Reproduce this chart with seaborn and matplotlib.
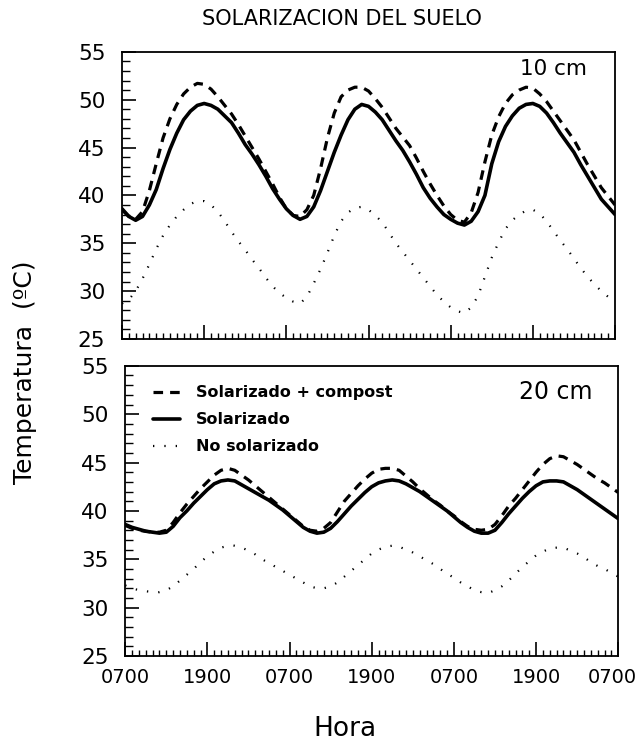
import numpy as np
import pandas as pd
import matplotlib
matplotlib.use("Agg")
import matplotlib.pyplot as plt
from matplotlib.ticker import MultipleLocator
from matplotlib.transforms import ScaledTranslation
import seaborn as sns

hours = list(range(0, 73))

top_compost = [38.5, 37.8, 37.5, 38.3, 40.5, 43.3, 46.0, 48.0, 49.5, 50.6, 51.3, 51.7,
               51.6, 51.1, 50.3, 49.4, 48.5, 47.4, 46.2, 45.0, 43.8, 42.5, 41.2, 39.8,
               38.6, 37.9, 37.8, 38.5, 40.0, 42.8, 46.0, 48.6, 50.3, 51.0, 51.3, 51.3,
               50.9, 50.1, 49.2, 48.1, 47.0, 46.1, 45.2, 43.9, 42.5, 41.2, 40.0, 38.9,
               38.0, 37.4, 37.2, 38.2, 40.3, 43.5, 46.3, 48.2, 49.6, 50.5, 51.0, 51.3,
               51.2, 50.6, 49.8, 48.8, 47.8, 46.8, 45.8, 44.5, 43.2, 42.0, 40.8, 39.9,
               39.0]
top_solar = [38.6, 37.8, 37.4, 37.8, 39.0, 40.6, 42.8, 44.8, 46.5, 47.9, 48.8, 49.4,
             49.6, 49.4, 49.0, 48.3, 47.6, 46.5, 45.3, 44.3, 43.2, 42.0, 40.7, 39.6,
             38.6, 37.9, 37.5, 37.8, 38.8, 40.5, 42.5, 44.5, 46.3, 47.9, 49.0, 49.5,
             49.3, 48.7, 47.9, 46.8, 45.7, 44.7, 43.5, 42.2, 40.8, 39.7, 38.8, 38.0,
             37.5, 37.1, 36.9, 37.3, 38.3, 40.0, 43.3, 45.6, 47.2, 48.3, 49.1, 49.5,
             49.6, 49.3, 48.6, 47.6, 46.5, 45.5, 44.5, 43.2, 42.0, 40.8, 39.6, 38.8,
             38.0]
top_none = [28.7, 29.1, 30.0, 31.3, 32.8, 34.4, 35.8, 36.9, 37.8, 38.5, 39.1, 39.4,
            39.4, 39.0, 38.3, 37.3, 36.2, 35.2, 34.3, 33.3, 32.4, 31.4, 30.5, 29.8,
            29.3, 28.9, 28.7, 29.4, 30.8, 32.3, 34.0, 35.8, 37.3, 38.2, 38.7, 38.8,
            38.5, 37.9, 37.2, 36.1, 35.0, 34.1, 33.2, 32.3, 31.4, 30.5, 29.6, 28.9,
            28.3, 27.9, 27.7, 28.3, 29.5, 31.5, 33.5, 35.1, 36.5, 37.4, 38.0, 38.4,
            38.5, 38.1, 37.3, 36.3, 35.3, 34.4, 33.4, 32.4, 31.5, 30.7, 30.0, 29.4,
            28.8]

bot_compost = [38.5, 38.2, 38.0, 37.9, 37.8, 37.8, 38.0, 38.8, 39.8, 40.7, 41.5, 42.3,
               43.0, 43.7, 44.2, 44.4, 44.2, 43.7, 43.2, 42.6, 42.0, 41.4, 40.8, 40.2,
               39.6, 39.0, 38.4, 38.0, 37.9, 38.2, 38.8, 39.9, 41.0, 41.8, 42.6, 43.3,
               43.9, 44.3, 44.4, 44.4, 44.2, 43.6, 43.0, 42.3, 41.7, 41.1, 40.6, 40.0,
               39.5, 38.9, 38.4, 38.1, 38.0, 38.1, 38.6, 39.5, 40.5, 41.3, 42.2, 43.1,
               44.0, 44.8, 45.4, 45.7, 45.6, 45.2, 44.8, 44.3, 43.8, 43.3, 42.9, 42.4,
               41.9]
bot_solar = [38.6, 38.3, 38.1, 37.9, 37.8, 37.7, 37.8, 38.4, 39.3, 40.0, 40.8, 41.5,
             42.2, 42.8, 43.1, 43.2, 43.1, 42.7, 42.3, 41.9, 41.5, 41.1, 40.6, 40.1,
             39.5, 38.9, 38.3, 37.9, 37.7, 37.8, 38.2, 38.9, 39.7, 40.5, 41.2, 41.9,
             42.5, 42.9, 43.1, 43.2, 43.1, 42.8, 42.4, 42.0, 41.5, 41.0, 40.5, 40.0,
             39.4, 38.8, 38.3, 37.9, 37.7, 37.7, 38.0, 38.8, 39.7, 40.5, 41.3, 42.0,
             42.6, 43.0, 43.1, 43.1, 43.0, 42.6, 42.2, 41.7, 41.2, 40.7, 40.2, 39.7,
             39.2]
bot_none = [32.3, 32.0, 31.8, 31.7, 31.6, 31.6, 31.8, 32.2, 32.8, 33.4, 34.0, 34.7,
            35.3, 35.8, 36.2, 36.4, 36.4, 36.2, 35.9, 35.5, 35.0, 34.6, 34.2, 33.8,
            33.4, 33.0, 32.6, 32.2, 32.0, 32.0, 32.2, 32.6, 33.2, 33.8, 34.4, 35.0,
            35.6, 36.0, 36.3, 36.4, 36.3, 36.0, 35.7, 35.3, 34.9, 34.5, 34.0, 33.5,
            33.1, 32.6, 32.2, 31.8, 31.6, 31.5, 31.8, 32.2, 32.8, 33.5, 34.2, 34.8,
            35.4, 35.8, 36.1, 36.2, 36.2, 35.9, 35.6, 35.2, 34.7, 34.3, 34.0, 33.6,
            33.2]

series_names = ["Solarizado + compost", "Solarizado", "No solarizado"]
tick_hours = [0, 12, 24, 36, 48, 60, 72]
tick_labels = ["0700", "1900", "0700", "1900", "0700", "1900", "0700"]
depth_labels = ["10 cm", "20 cm"]

sns.set_style("ticks")
plt.rcParams['font.family'] = ['DejaVu Sans']
for k in ["text.color", "axes.labelcolor", "xtick.color", "ytick.color", "axes.edgecolor"]:
    plt.rcParams[k] = "black"

styles = {
    "Solarizado + compost": dict(ls=(0, (3.0, 2.2)), lw=2.3),
    "Solarizado": dict(ls="-", lw=2.6),
    "No solarizado": dict(ls=(0, (0.6, 4.5)), lw=1.6),
}

fig = plt.figure(figsize=(6.42, 7.44), dpi=100)
ax1 = fig.add_axes([0.190, 0.5444, 0.768, 0.386])
ax2 = fig.add_axes([0.195, 0.1183, 0.768, 0.390])

panels = [(ax1, [top_compost, top_solar, top_none]),
          (ax2, [bot_compost, bot_solar, bot_none])]
label_pos = [(0.943, 0.94), (0.947, 0.91)]
label_size = [15.5, 17]

for i, (ax, data) in enumerate(panels):
    for name, vals in zip(series_names, data):
        df = pd.DataFrame({"h": hours, "t": vals})
        st = styles[name]
        sns.lineplot(data=df, x="h", y="t", ax=ax, color="black",
                     linestyle=st["ls"], linewidth=st["lw"], label=name,
                     legend=False)
    ax.set_xlim(0, 72)
    ax.set_ylim(25, 55)
    ax.set_xlabel("")
    ax.set_ylabel("")
    ax.yaxis.set_major_locator(MultipleLocator(5))
    ax.yaxis.set_minor_locator(MultipleLocator(1))
    ax.set_xticks(tick_hours)
    ax.xaxis.set_minor_locator(MultipleLocator(1))
    ax.tick_params(axis="both", which="major", direction="in", length=10, width=1.2,
                   colors="black")
    ax.tick_params(axis="y", which="major", labelsize=15.5, pad=12)
    ax.tick_params(axis="x", which="major", labelsize=14, pad=9)
    ax.tick_params(axis="y", which="minor", direction="in", length=6, width=1.0)
    ax.tick_params(axis="x", which="minor", direction="in", length=4, width=1.0)
    for sp in ax.spines.values():
        sp.set_linewidth(1.3)
        sp.set_visible(True)
    ax.text(label_pos[i][0], label_pos[i][1], depth_labels[i], transform=ax.transAxes,
            ha="right", va="center", fontsize=label_size[i], color="black")

ax1.set_xticklabels([])
ax2.set_xticklabels(tick_labels)
last = ax2.get_xticklabels()[-1]
last.set_transform(last.get_transform() + ScaledTranslation(-4 / 72, 0, fig.dpi_scale_trans))

leg = ax2.legend(loc="upper left", bbox_to_anchor=(0.044, 0.955), frameon=False,
                 handlelength=1.7, labelspacing=0.75, borderaxespad=0.0,
                 handletextpad=0.95, prop={"weight": "bold", "size": 11.5})
for t in leg.get_texts():
    t.set_color("black")

fig.text(0.533, 0.974, "SOLARIZACION DEL SUELO", ha="center", va="center", fontsize=15)
fig.text(0.039, 0.5, "Temperatura  (ºC)", rotation=90, ha="center", va="center", fontsize=18)
fig.text(0.537, 0.020, "Hora", ha="center", va="center", fontsize=19)

fig.savefig("out.png", dpi=100)
